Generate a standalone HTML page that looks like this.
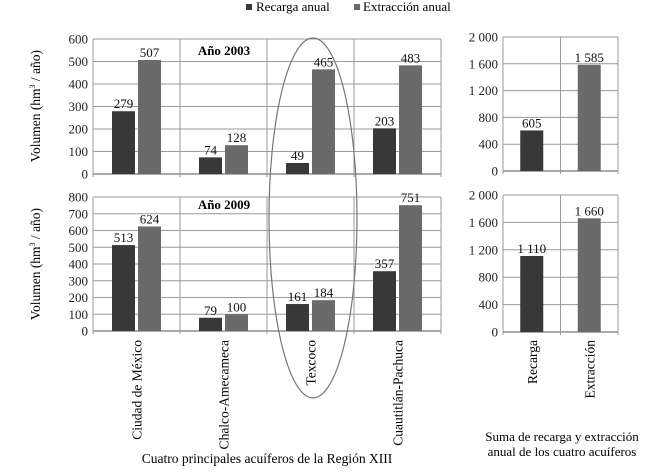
<!DOCTYPE html>
<html><head><meta charset="utf-8"><style>
body{margin:0;background:#fff;}
svg{display:block;font-family:"Liberation Serif",serif;}
</style></head><body>
<svg id="c" width="659" height="472" viewBox="0 0 659 472"></svg>
<script>
const categories=["Ciudad de México","Chalco-Amecameca","Texcoco","Cuautitlán-Pachuca"];
const recarga2003=[279,74,49,203];
const extraccion2003=[507,128,465,483];
const recarga2009=[513,79,161,357];
const extraccion2009=[624,100,184,751];
const sumCategories=["Recarga","Extracción"];
const sum2003=[605,1585];
const sum2009=[1110,1660];
const ticks2003=[0,100,200,300,400,500,600];
const ticks2009=[0,100,200,300,400,500,600,700,800];
const ticksSum=[0,400,800,1200,1600,2000];

const svg=document.getElementById('c');
const NS='http://www.w3.org/2000/svg';
function el(t,a,txt){const e=document.createElementNS(NS,t);for(const k in a)e.setAttribute(k,a[k]);if(txt!==undefined)e.textContent=txt;svg.appendChild(e);return e;}
const C1='#383838',C2='#6a6a6a',G='#9a9a9a';
function fmt(v){return v>=1000?String(v).replace(/(\d)(\d{3})$/,'$1 $2'):String(v);}

function panel(x0,x1,yTop,yBot,max,ticks,cats,series,name){
  const y=v=>yBot-(v/max)*(yBot-yTop);
  const n=cats.length,cw=(x1-x0)/n;
  ticks.forEach(t=>{
    const g=el('line',{x1:x0,x2:x1,y1:y(t),y2:y(t),stroke:t===0?'#555':G,'stroke-width':1});
    
    
    const l=el('text',{x:x0-5,y:y(t)+4.5,'text-anchor':'end','font-size':13,fill:'#222'},fmt(t));
    
    
  });
  for(let i=0;i<=n;i++){
    const v=el('line',{x1:x0+i*cw,x2:x0+i*cw,y1:yTop,y2:yBot+3,stroke:G,'stroke-width':1});
    
    
  }
  const bw=23;
  cats.forEach((c,i)=>{
    const cx=x0+cw*(i+0.5);
    series.forEach((s,j)=>{
      const bx=series.length===2?(j===0?cx-bw-1.5:cx+1.5):(cx-bw/2);
      const col=series.length===2?(j===0?C1:C2):s.colors[i];
      const val=s.values[i];
      const r=el('rect',{x:bx,y:y(val),width:bw,height:yBot-y(val),fill:col});
      
      
      const t=el('text',{x:bx+bw/2,y:y(val)-3,'text-anchor':'middle','font-size':13,fill:'#111'},fmt(val));
      
      
    });
  });
}
panel(93,441,39,174,600,ticks2003,categories,[{key:'recarga',values:recarga2003},{key:'extraccion',values:extraccion2003}],'p2003');
panel(93,441,197,331,800,ticks2009,categories,[{key:'recarga',values:recarga2009},{key:'extraccion',values:extraccion2009}],'p2009');
panel(503,618,37,171,2000,ticksSum,sumCategories,[{key:'total',values:sum2003,colors:[C1,C2]}],'sum2003');
panel(503,618,195,332,2000,ticksSum,sumCategories,[{key:'total',values:sum2009,colors:[C1,C2]}],'sum2009');

let t;
t=el('text',{x:224,y:55,'text-anchor':'middle','font-size':13,'font-weight':'bold'},'Año 2003');

t=el('text',{x:224,y:209,'text-anchor':'middle','font-size':13,'font-weight':'bold'},'Año 2009');


categories.forEach((c,i)=>{
  const cx=93+87*(i+0.5)+5;
  const l=el('text',{x:0,y:0,'text-anchor':'end','font-size':13.5,transform:`translate(${cx},340) rotate(-90)`},c);
  
  
});
sumCategories.forEach((c,i)=>{
  const cx=503+57.5*(i+0.5)+5;
  const l=el('text',{x:0,y:0,'text-anchor':'end','font-size':13.5,transform:`translate(${cx},340) rotate(-90)`},c);
  
  
});

[106,264].forEach(cy=>{
  const g=el('text',{x:0,y:0,'text-anchor':'middle','font-size':13.5,transform:`translate(40,${cy}) rotate(-90)`});
  
  
  g.innerHTML='Volumen (hm<tspan dy="-5" font-size="8">3</tspan><tspan dy="5"> / año)</tspan>';
});

t=el('text',{x:267,y:463,'text-anchor':'middle','font-size':13.5},'Cuatro principales acuíferos de la Región XIII');

t=el('text',{x:562,y:441,'text-anchor':'middle','font-size':13},'Suma de recarga y extracción');

t=el('text',{x:562,y:456,'text-anchor':'middle','font-size':13},'anual de los cuatro acuíferos');


let r=el('rect',{x:246,y:4,width:6,height:6,fill:C1});

t=el('text',{x:256,y:11,'font-size':13},'Recarga anual');

r=el('rect',{x:354,y:4,width:6,height:6,fill:C2});

t=el('text',{x:363,y:11,'font-size':13},'Extracción anual');


const e=el('ellipse',{cx:313,cy:218,rx:44,ry:180,fill:'none',stroke:'#777','stroke-width':1.2});


</script>
</body></html>
